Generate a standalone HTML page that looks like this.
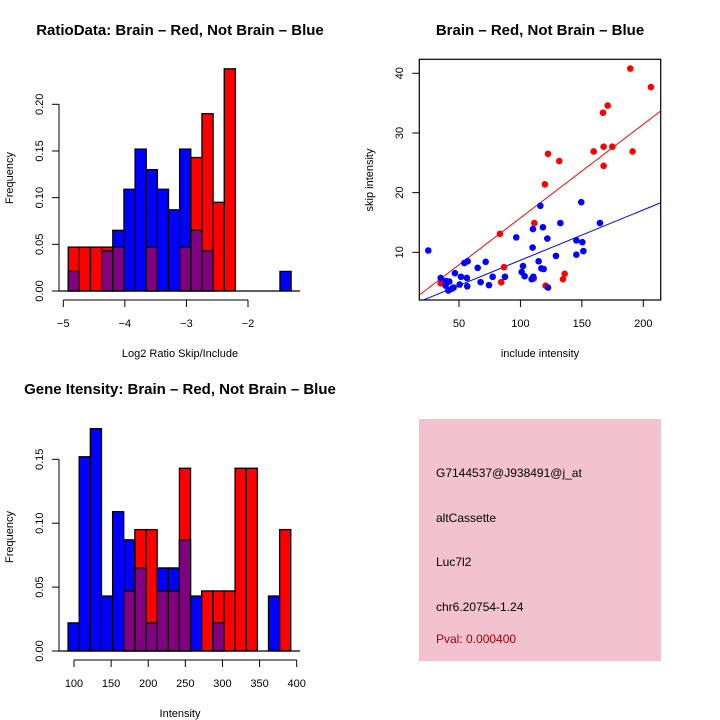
<!DOCTYPE html>
<html><head><meta charset="utf-8"><style>
html,body{margin:0;padding:0;background:#fff;}
svg{display:block;font-family:"Liberation Sans",sans-serif;}
</style></head><body>
<svg id="chart" width="720" height="720" viewBox="0 0 720 720">
<rect width="720" height="720" fill="#fff"/>
<g id="p1"></g>
<g id="p2"></g>
<g id="p3"></g>
<g id="p4">
<rect x="419" y="419" width="242" height="242" fill="#f2c3cf"/>
<text x="436" y="477" font-size="12">G7144537@J938491@j_at</text>
<text x="436" y="522" font-size="12">altCassette</text>
<text x="436" y="566" font-size="12">Luc7l2</text>
<text x="436" y="611" font-size="12">chr6.20754-1.24</text>
<text x="436" y="643" font-size="12" fill="#a00000">Pval: 0.000400</text>
</g>
</svg>
<script>
// ---- Panel 1: ratio histogram ----
const ratioBinStart = -4.92;
const ratioBinWidth = 0.181;
const ratioRed  = [0.047,0.047,0.047,0.047,0.047,0,0,0.047,0,0,0.047,0.143,0.190,0.095,0.238,0,0,0,0,0];
const ratioBlue = [0.021,0,0,0.043,0.065,0.109,0.152,0.130,0.109,0.087,0.152,0.065,0.043,0,0,0,0,0,0,0.021];
const ratioXTicks = [-5,-4,-3,-2];
const ratioXTickLabels = ["\u22125","\u22124","\u22123","\u22122"];
const ratioYTicks = [0,0.05,0.10,0.15,0.20];
const ratioYTickLabels = ["0.00","0.05","0.10","0.15","0.20"];

// ---- Panel 2: scatter ----
const redInclude = [35.1,83.3,86.6,84.4,111.3,110.8,119.9,122.4,120.5,131.6,134.6,136,159.6,167.2,171,167.7,174.8,167.7,189.4,191.3,206.2];
const redSkip    = [4.8,13.1,7.5,5.0,14.9,5.6,21.4,26.5,4.4,25.3,5.5,6.4,26.9,33.4,34.6,27.7,27.7,24.5,40.8,26.9,37.7];
const blueInclude = [25,35.1,39.4,42.1,39.1,41.3,44.2,45.6,46.7,50.5,51.6,54.3,57,56.4,56.7,65.2,67.6,71.7,74.4,77.4,87.4,96.6,101,102.1,103.4,109.1,110.5,109.9,110.2,114.8,116.2,118.3,117,118.9,121.9,122.4,128.9,132.5,145.5,145.5,149.5,150.4,151.2,164.7];
const blueSkip    = [10.3,5.7,5.2,5.1,4.4,3.6,3.9,4.1,6.5,4.6,5.9,8.2,8.5,5.7,4.3,7.4,5.0,8.4,4.5,5.9,5.9,12.5,6.7,7.7,6.0,5.5,5.9,10.8,13.9,8.5,17.8,14.2,7.3,7.2,12.3,4.1,9.4,14.9,12.0,9.6,18.4,11.7,10.2,14.9];
const redFit  = [0.07, 0.157];   // intercept, slope
const blueFit = [0.23, 0.0844];
const scatXTicks = [50,100,150,200];
const scatYTicks = [10,20,30,40];

// ---- Panel 3: intensity histogram ----
const intBinStart = 92;
const intBinWidth = 15;
const intRed  = [0,0,0,0,0,0.047,0.095,0.095,0.047,0.047,0.143,0,0.047,0.047,0.047,0.143,0.143,0,0,0.095];
const intBlue = [0.022,0.152,0.174,0.043,0.109,0.087,0.065,0.022,0.065,0.065,0.087,0.043,0,0.022,0,0,0,0,0.043,0];
const intXTicks = [100,150,200,250,300,350,400];
const intYTicks = [0,0.05,0.10,0.15];
const intYTickLabels = ["0.00","0.05","0.10","0.15"];

const NS = "http://www.w3.org/2000/svg";
function mk(parent, tag, attrs, text) {
  const e = document.createElementNS(NS, tag);
  for (const k in attrs) e.setAttribute(k, attrs[k]);
  if (text !== undefined) e.textContent = text;
  parent.appendChild(e);
  return e;
}
function lin(d0, d1, r0, r1) { return v => r0 + (v - d0) * (r1 - r0) / (d1 - d0); }

function histogram(g, opt) {
  const x = opt.x, y = opt.y;
  for (let i = 0; i < opt.red.length; i++) {
    const x0 = x(opt.start + i * opt.width), x1 = x(opt.start + (i + 1) * opt.width);
    const r = opt.red[i], b = opt.blue[i];
    const hi = Math.max(r, b), lo = Math.min(r, b);
    if (hi > 0) {
      const bar = mk(g, "rect", {x: x0, y: y(hi), width: x1 - x0, height: y(0) - y(hi), fill: r >= b ? "#ff0000" : "#0000ff", stroke: "#000", "stroke-width": 1.3});
      
      
    }
    if (lo > 0) {
      const ov = mk(g, "rect", {x: x0, y: y(lo), width: x1 - x0, height: y(0) - y(lo), fill: "#800080", stroke: "#000", "stroke-width": 1.3});
      
      
    }
  }
  const base = mk(g, "line", {x1: 59, x2: 300, y1: y(0), y2: y(0), stroke: "#000", "stroke-width": 1.3});
  
  
  const yt = opt.yTicks;
  const ya = mk(g, "line", {x1: 59, x2: 59, y1: y(yt[0]), y2: y(yt[yt.length - 1]), stroke: "#000"});
  
  
  yt.forEach((v, i) => {
    mk(g, "line", {x1: 52, x2: 59, y1: y(v), y2: y(v), stroke: "#000"});
    const t = mk(g, "text", {x: 0, y: 0, "font-size": 11, "text-anchor": "middle", transform: `translate(43,${y(v)}) rotate(-90)`}, opt.yLabels[i]);
    
    
  });
  const xt = opt.xTicks, ay = opt.axisY;
  const xa = mk(g, "line", {x1: x(xt[0]), x2: x(xt[xt.length - 1]), y1: ay, y2: ay, stroke: "#000"});
  
  
  xt.forEach((v, i) => {
    mk(g, "line", {x1: x(v), x2: x(v), y1: ay, y2: ay + 7, stroke: "#000"});
    const t = mk(g, "text", {x: x(v), y: ay + 27, "font-size": 11, "text-anchor": "middle"}, opt.xLabels[i]);
    
    
  });
  const ti = mk(g, "text", {x: 180, y: opt.titleY, "font-size": 15, "font-weight": "bold", "text-anchor": "middle"}, opt.title);
  
  
  const xl = mk(g, "text", {x: 180, y: opt.xLabY, "font-size": 11, "text-anchor": "middle"}, opt.xLab);
  
  
  const yl = mk(g, "text", {x: 0, y: 0, "font-size": 11, "text-anchor": "middle", transform: `translate(13,${opt.yLabMid}) rotate(-90)`}, "Frequency");
  
  
}

histogram(document.getElementById("p1"), {
  x: lin(-5, -2, 63.3, 248), y: lin(0, 0.20, 291, 104.3),
  start: ratioBinStart, width: ratioBinWidth, red: ratioRed, blue: ratioBlue,
  yTicks: ratioYTicks, yLabels: ratioYTickLabels, xTicks: ratioXTicks, xLabels: ratioXTickLabels,
  axisY: 300, title: "RatioData: Brain \u2013 Red, Not Brain \u2013 Blue", titleY: 35,
  xLab: "Log2 Ratio Skip/Include", xLabY: 357, yLabMid: 178
});
histogram(document.getElementById("p3"), {
  x: lin(100, 400, 74, 296.7), y: lin(0, 0.15, 651, 459.3),
  start: intBinStart, width: intBinWidth, red: intRed, blue: intBlue,
  yTicks: intYTicks, yLabels: intYTickLabels, xTicks: intXTicks, xLabels: intXTicks.map(String),
  axisY: 660, title: "Gene Itensity: Brain \u2013 Red, Not Brain \u2013 Blue", titleY: 394,
  xLab: "Intensity", xLabY: 717, yLabMid: 537
});

(function () {
  const g = document.getElementById("p2");
  const x = lin(50, 200, 459, 643.3), y = lin(10, 40, 252.3, 73.3);
  const L = 419.3, R = 660.7, T = 59.3, B = 300;
  mk(g, "clipPath", {id: "clipS"}).appendChild(document.createElementNS(NS, "rect"));
  const cr = g.querySelector("#clipS rect");
  cr.setAttribute("x", L); cr.setAttribute("y", T); cr.setAttribute("width", R - L); cr.setAttribute("height", B - T);
  const dx0 = (L - 397.6) / 1.2287, dx1 = (R - 397.6) / 1.2287;
  [[redFit, "#ff0000", "red-fit-line"], [blueFit, "#0000ff", "blue-fit-line"]].forEach(([f, c, n]) => {
    const l = mk(g, "line", {x1: x(dx0), x2: x(dx1), y1: y(f[0] + f[1] * dx0), y2: y(f[0] + f[1] * dx1), stroke: c, "clip-path": "url(#clipS)"});
    
    
  });
  redInclude.forEach((v, i) => {
    const p = mk(g, "circle", {cx: x(v), cy: y(redSkip[i]), r: 3.3, fill: "#ff0000"});
    
    
  });
  blueInclude.forEach((v, i) => {
    const p = mk(g, "circle", {cx: x(v), cy: y(blueSkip[i]), r: 3.3, fill: "#0000ff"});
    
    
  });
  const box = mk(g, "rect", {x: L, y: T, width: R - L, height: B - T, fill: "none", stroke: "#000", "stroke-width": 1.2});
  
  
  scatXTicks.forEach(v => {
    mk(g, "line", {x1: x(v), x2: x(v), y1: B, y2: B + 7, stroke: "#000"});
    const t = mk(g, "text", {x: x(v), y: B + 27, "font-size": 11, "text-anchor": "middle"}, String(v));
    
    
  });
  scatYTicks.forEach(v => {
    mk(g, "line", {x1: L - 7, x2: L, y1: y(v), y2: y(v), stroke: "#000"});
    const t = mk(g, "text", {x: 0, y: 0, "font-size": 11, "text-anchor": "middle", transform: `translate(403,${y(v)}) rotate(-90)`}, String(v));
    
    
  });
  const ti = mk(g, "text", {x: 540, y: 35, "font-size": 15, "font-weight": "bold", "text-anchor": "middle"}, "Brain \u2013 Red, Not Brain \u2013 Blue");
  
  
  const xl = mk(g, "text", {x: 540, y: 357, "font-size": 11, "text-anchor": "middle"}, "include intensity");
  
  
  const yl = mk(g, "text", {x: 0, y: 0, "font-size": 11, "text-anchor": "middle", transform: "translate(373,180) rotate(-90)"}, "skip intensity");
  
  
})();
</script>
</body></html>
